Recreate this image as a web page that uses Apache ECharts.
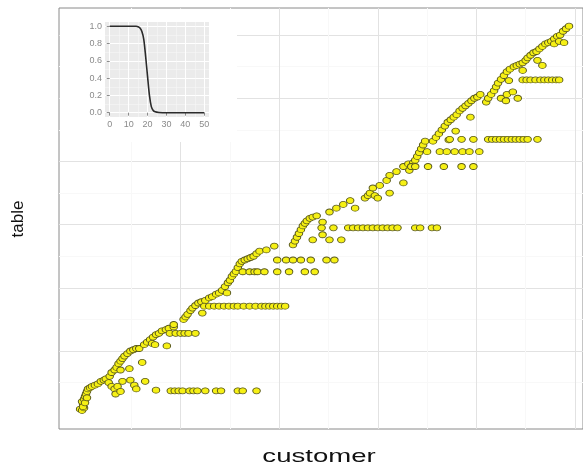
<!DOCTYPE html>
<html>
<head>
<meta charset="utf-8">
<script src="https://cdn.jsdelivr.net/npm/echarts@6/dist/echarts.min.js"></script>
<style>
  html, body { margin: 0; padding: 0; background: #fff; }
  #chart { width: 583px; height: 466px; }
</style>
</head>
<body>
<div id="chart"></div>
<script>
// Main rising band of (customer, table) points
const trend = [
  [-2,4],[0,3],[2,5],[1,8],[0,10],[2,12],[3,14],[4,16],[5,18],[6,20],[8,21],[10,22],[13,23],[16,24],[19,26],[22,27],[24,28],[1,6],[3,9],[5,13],
  [27,25],[30,22],[33,20],[36,22],[34,16],[39,18],[41,26],[49,27],[53,23],[55,20],[64,26],[75,19],
  [28,30],[30,33],[33,35],[35,37],[37,40],[39,42],[41,44],[43,46],[46,48],[49,50],[52,51],[55,52],[58,52],
  [39,35],[48,36],[61,41],
  [63,55],[66,57],[69,59],[72,61],[75,63],[78,64],[81,66],[85,67],[88,68],[93,69],[71,56],[74,55],[86,54],[93,71],
  [103,75],[105,77],[107,79],[110,82],[112,84],[115,86],[118,88],[121,89],[125,90],[129,92],[132,93],[136,95],[139,96],[142,98],[145,101],[148,104],[150,106],
  [122,80],[147,96],
  [152,109],[154,111],[156,113],[158,116],[160,119],[162,121],[165,122],[168,123],[171,124],[174,125],[177,127],[180,129],
  [187,130],[195,133],
  [214,134],[216,137],[218,140],[220,143],[222,146],[224,149],[226,151],[228,153],[231,155],[234,156],[238,157],
  [244,152],[244,142],[251,138],[263,138],[234,138],
  [251,160],[258,163],[265,166],[272,169],[277,163],[287,171],[290,173],[292,175],[295,179],[297,173],[300,171],[302,181],[309,185],[312,189],[312,175],[319,192],[326,196],[326,183],[331,198],
  [332,193],[334,196],[336,199],[338,201],[340,204],[342,207],[344,210],[346,213],[348,216],
  [356,216],[359,219],[362,222],[365,225],[368,228],[371,231],[374,233],[377,235],[380,237],[383,240],[386,242],[389,244],[392,246],[395,248],[398,250],[401,251],[404,253],
  [379,224],[372,217],[394,235],
  [410,247],[412,250],[415,253],[418,256],[420,259],[422,262],[425,265],[428,268],[431,271],[434,273],
  [425,250],[431,253],[437,255],[442,250],[433,264],[430,248],
  [438,275],[441,276],[444,277],[447,278],[450,280],[452,282],[455,284],[458,286],[461,287],[464,289],
  [462,280],[467,276],[447,272],
  [467,291],[470,293],[473,294],[476,295],[479,297],[482,299],[485,300],[488,303],[491,305],[494,307],
  [479,293],[484,295],[489,294]
];

// Horizontal runs: one table value shared by several customers
const rowTable = [18.5, 64, 85.5, 112.7, 122, 147.5, 196, 207.7, 217.5, 264.5];
const rowCustomers = [
  [90,94,98,102,109,113,117,125,136,141,158,163,177],
  [89,95,100,104,108,115],
  [124,129,134,139,144,149,154,158,164,170,176,182,186,190,194,198,202,206],
  [163,170,175,178,185,198,210,226,236],
  [198,207,214,222,232,248,256],
  [243,255,270,275,280,285,290,295,300,305,310,315,320,338,343,355,360],
  [334,338,351,367,385,397],
  [350,363,370,378,386,393,403],
  [373,385,397,412,416,420,424,428,432,436,440,444,448,452,462],
  [447,451,455,460,465,469,473,477,481,484]
];

// Gridline positions of the main panel
const xBreaks = [100, 200, 300, 400, 500];
const xMinorBreaks = [50, 150, 250, 350, 450];
const yBreaks = [50, 100, 150, 200, 250, 300];
const yMinorBreaks = [25, 75, 125, 175, 225, 275];

// Inset: decreasing curve
const curveX = [0, 5, 10, 14, 15, 16, 17, 18, 19, 20, 21, 22, 23, 24, 26, 30, 40, 50];
const curveY = [1, 1, 1, 1, 0.995, 0.98, 0.94, 0.85, 0.65, 0.42, 0.2, 0.07, 0.025, 0.01, 0.003, 0, 0, 0];
const insetXBreaks = [0, 10, 20, 30, 40, 50];
const insetXMinor = [5, 15, 25, 35, 45];
const insetYBreaks = [0, 0.2, 0.4, 0.6, 0.8, 1.0];
const insetYMinor = [0.1, 0.3, 0.5, 0.7, 0.9];

const points = trend.slice();
rowTable.forEach((t, i) => rowCustomers[i].forEach(c => points.push([c, t])));
const curve = curveX.map((x, i) => [x, curveY[i]]);

const FONT = '"Liberation Sans", Arial, Helvetica, sans-serif';
const hidden = { axisLine: { show: false }, axisLabel: { show: false } };

const chart = echarts.init(document.getElementById('chart'), null, { renderer: 'canvas' });
chart.setOption({
  animation: false,
  backgroundColor: '#ffffff',
  grid: [
    { left: 59, right: -5, top: 8, bottom: 37, show: true, backgroundColor: 'transparent',
      borderColor: '#8a8a8a', borderWidth: 1, z: 0 },
    { left: 105, width: 104, top: 22, height: 95, show: true, backgroundColor: '#ebebeb',
      borderWidth: 0, z: 2.5 }
  ],
  xAxis: [
    Object.assign({ gridIndex: 0, type: 'value', min: -23.4, max: 508.2,
      axisTick: { show: false, customValues: xBreaks },
      splitLine: { show: true, lineStyle: { color: '#e2e2e2', width: 1 } } }, hidden),
    Object.assign({ gridIndex: 0, type: 'value', min: -23.4, max: 508.2,
      axisTick: { show: false, customValues: xMinorBreaks },
      splitLine: { show: true, lineStyle: { color: '#f8f8f8', width: 1 } } }, hidden),
    { gridIndex: 1, type: 'value', min: -2.5, max: 52.5, z: 3,
      axisLine: { show: false },
      axisTick: { show: true, length: 3, customValues: insetXBreaks, lineStyle: { color: '#8c8c8c' } },
      axisLabel: { show: true, customValues: insetXBreaks, color: '#8a8a8a', fontSize: 9, margin: 3, fontFamily: FONT },
      splitLine: { show: true, lineStyle: { color: '#ffffff', width: 1 } } },
    Object.assign({ gridIndex: 1, type: 'value', min: -2.5, max: 52.5, z: 3,
      axisTick: { show: false, customValues: insetXMinor },
      splitLine: { show: true, lineStyle: { color: '#f8f8f8', width: 0.5 } } }, hidden)
  ],
  yAxis: [
    Object.assign({ gridIndex: 0, type: 'value', min: -11.7, max: 321.4,
      axisTick: { show: false, customValues: yBreaks },
      splitLine: { show: true, lineStyle: { color: '#e2e2e2', width: 1 } } }, hidden),
    Object.assign({ gridIndex: 0, type: 'value', min: -11.7, max: 321.4,
      axisTick: { show: false, customValues: yMinorBreaks },
      splitLine: { show: true, lineStyle: { color: '#f8f8f8', width: 1 } } }, hidden),
    { gridIndex: 1, type: 'value', min: -0.05, max: 1.05, z: 3,
      axisLine: { show: false },
      axisTick: { show: true, length: 3, customValues: insetYBreaks, lineStyle: { color: '#8c8c8c' } },
      axisLabel: { show: true, customValues: insetYBreaks, color: '#8a8a8a', fontSize: 9, margin: 3,
        fontFamily: FONT, formatter: v => v.toFixed(1) },
      splitLine: { show: true, lineStyle: { color: '#ffffff', width: 1 } } },
    Object.assign({ gridIndex: 1, type: 'value', min: -0.05, max: 1.05, z: 3,
      axisTick: { show: false, customValues: insetYMinor },
      splitLine: { show: true, lineStyle: { color: '#f8f8f8', width: 0.5 } } }, hidden)
  ],
  graphic: [
    { type: 'rect', z: 1, silent: true, shape: { x: 60, y: 9, width: 177, height: 133 },
      style: { fill: '#ffffff' } },
    { type: 'text', x: 319, y: 457, scaleX: 1.45, silent: true,
      style: { text: 'customer', font: '19px ' + FONT, fill: '#111111',
        textAlign: 'center', textVerticalAlign: 'middle' } },
    { type: 'text', x: 18, y: 219, rotation: Math.PI / 2, silent: true,
      style: { text: 'table', font: '17px ' + FONT, fill: '#111111',
        textAlign: 'center', textVerticalAlign: 'middle' } }
  ],
  series: [
    { type: 'scatter', xAxisIndex: 0, yAxisIndex: 0, z: 2, silent: true,
      symbol: 'circle', symbolSize: [7.5, 6], data: points,
      itemStyle: { color: '#f6f014', borderColor: '#57571d', borderWidth: 0.9, opacity: 1 } },
    { type: 'line', xAxisIndex: 2, yAxisIndex: 2, z: 4, silent: true,
      showSymbol: false, symbol: 'none', data: curve, smooth: 0.3,
      lineStyle: { color: '#2b2b2b', width: 1.6 } }
  ]
});
</script>
</body>
</html>
